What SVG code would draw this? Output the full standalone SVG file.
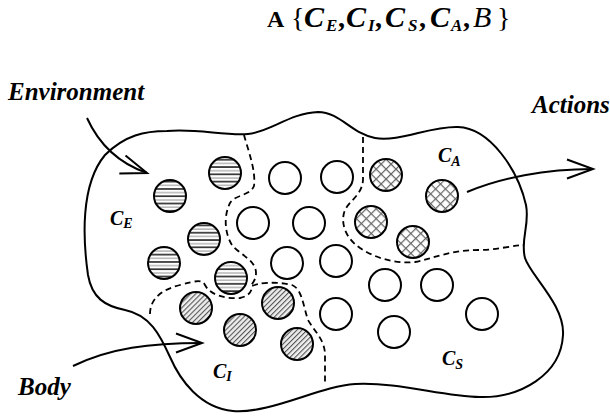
<svg xmlns="http://www.w3.org/2000/svg" width="610" height="417" viewBox="0 0 610 417">
<style>
.blob{fill:none;stroke:#000;stroke-width:2}
.bd{fill:none;stroke:#000;stroke-width:1.8;stroke-dasharray:6,4}
.c{stroke:#000;stroke-width:2}
.e{fill:#fff}
.h{fill:url(#hz)}
.d{fill:url(#dg)}
.x{fill:url(#xh)}
.arr{fill:none;stroke:#000;stroke-width:2;marker-end:url(#ah)}
.lb{font-family:"Liberation Serif","Times New Roman",serif;font-weight:bold;font-style:italic;fill:#000}
.t{font-family:"Liberation Serif","Times New Roman",serif;fill:#000}
.bi{font-weight:bold;font-style:italic}
</style>
<defs>
<pattern id="hz" patternUnits="userSpaceOnUse" width="8" height="7.3">
<rect width="8" height="7.3" fill="#fff"/>
<rect y="2.2" width="8" height="1.3" fill="#aaa"/>
<rect y="5.6" width="8" height="1.7" fill="#333"/>
</pattern>
<pattern id="dg" patternUnits="userSpaceOnUse" width="3.6" height="3.6" patternTransform="rotate(45)">
<rect width="3.6" height="3.6" fill="#eee"/>
<rect width="1.1" height="3.6" fill="#555"/>
</pattern>
<pattern id="xh" patternUnits="userSpaceOnUse" width="7" height="7" patternTransform="rotate(45)">
<rect width="7" height="7" fill="#fff"/>
<rect width="1.2" height="7" fill="#666"/>
<rect width="7" height="1.2" fill="#666"/>
</pattern>
<marker id="ah" markerUnits="userSpaceOnUse" viewBox="-30 -12 34 24" markerWidth="34" markerHeight="24" refX="0" refY="0" orient="auto" overflow="visible">
<path d="M -26,-9.5 L 0,0 L -26,9.5" fill="none" stroke="#000" stroke-width="2"/>
</marker>
</defs>

<g id="title">
<text class="t" y="27"><tspan x="267" font-size="24" font-weight="bold">A</tspan><tspan x="291" font-size="28">{</tspan><tspan class="bi" x="304" font-size="30">C</tspan><tspan class="bi" x="326" y="31" font-size="17">E</tspan><tspan x="338" y="27" font-size="28" font-weight="bold">,</tspan><tspan class="bi" x="346" font-size="30">C</tspan><tspan class="bi" x="368" y="31" font-size="17">I</tspan><tspan x="375" y="27" font-size="28" font-weight="bold">,</tspan><tspan class="bi" x="385" font-size="30">C</tspan><tspan class="bi" x="408" y="31" font-size="17">S</tspan><tspan x="419" y="27" font-size="28" font-weight="bold">,</tspan><tspan class="bi" x="430" font-size="30">C</tspan><tspan class="bi" x="451" y="31" font-size="17">A</tspan><tspan x="463" y="27" font-size="28" font-weight="bold">,</tspan><tspan x="473" font-size="30" font-style="italic">B</tspan><tspan x="497" font-size="28">}</tspan></text>
</g>

<g id="body">
<path class="blob" d="M 167,131 C 195,128 225,136 248,134 C 270,132 290,113 318,112 C 340,112 352,134 375,138 C 400,142 430,126 458,127 C 490,128 518,170 526,205 C 530,225 520,240 525,258 C 530,275 565,305 563,335 C 561,375 520,398 480,397 C 440,396 400,382 355,384 C 320,386 270,414 233,411 C 200,408 180,380 170,357 C 160,335 150,315 125,310 C 105,306 92,298 88,275 C 83,240 80,185 105,155 C 125,135 145,131 167,131 Z"/>
</g>

<g id="boundaries">
<path class="bd" d="M 244,135 C 248,150 256,170 254,186 C 250,196 236,194 230,203 C 224,215 224,232 232,245 C 240,255 256,260 256,273 C 256,280 252,284 250,287"/>
<path class="bd" d="M 150,314 C 150,300 160,290 180,285 C 195,281 202,279 205,285 C 210,295 225,299 240,298 C 250,296 252,290 252,286 C 258,283 275,281 292,285 C 302,289 303,305 308,320 C 315,332 325,340 325,355 L 325,382"/>
<path class="bd" d="M 363,137 L 363,180 C 362,195 350,200 345,210 C 340,222 345,238 360,248 C 375,258 395,264 415,262 C 435,258 450,250 480,250 C 495,250 510,246 523,245"/>
</g>

<g id="ce-1"><circle class="c h" cx="170" cy="196" r="16"/></g>
<g id="ce-2"><circle class="c h" cx="225" cy="173" r="16"/></g>
<g id="ce-3"><circle class="c h" cx="204" cy="239" r="16"/></g>
<g id="ce-4"><circle class="c h" cx="164" cy="263" r="16"/></g>
<g id="ce-5"><circle class="c h" cx="231" cy="278" r="16"/></g>

<g id="ci-1"><circle class="c d" cx="196" cy="308" r="16"/></g>
<g id="ci-2"><circle class="c d" cx="240" cy="330" r="16"/></g>
<g id="ci-3"><circle class="c d" cx="278" cy="303" r="16"/></g>
<g id="ci-4"><circle class="c d" cx="297" cy="344" r="16"/></g>

<g id="ca-1"><circle class="c x" cx="386" cy="175" r="16"/></g>
<g id="ca-2"><circle class="c x" cx="442" cy="196" r="16"/></g>
<g id="ca-3"><circle class="c x" cx="371" cy="222" r="16"/></g>
<g id="ca-4"><circle class="c x" cx="413" cy="242" r="16"/></g>

<g id="cs-1"><circle class="c e" cx="285" cy="178" r="16"/></g>
<g id="cs-2"><circle class="c e" cx="337" cy="177" r="16"/></g>
<g id="cs-3"><circle class="c e" cx="253" cy="223" r="16"/></g>
<g id="cs-4"><circle class="c e" cx="309" cy="223" r="16"/></g>
<g id="cs-5"><circle class="c e" cx="287" cy="263" r="16"/></g>
<g id="cs-6"><circle class="c e" cx="336" cy="261" r="16"/></g>
<g id="cs-7"><circle class="c e" cx="385" cy="285" r="16"/></g>
<g id="cs-8"><circle class="c e" cx="437" cy="285" r="16"/></g>
<g id="cs-9"><circle class="c e" cx="336" cy="314" r="16"/></g>
<g id="cs-10"><circle class="c e" cx="394" cy="332" r="16"/></g>
<g id="cs-11"><circle class="c e" cx="482" cy="314" r="16"/></g>

<g id="label-ce"><text class="lb" x="110" y="225" font-size="20">C<tspan font-size="14" dy="3">E</tspan></text></g>
<g id="label-ca"><text class="lb" x="438" y="162" font-size="20">C<tspan font-size="14" dy="4">A</tspan></text></g>
<g id="label-ci"><text class="lb" x="213" y="378" font-size="20">C<tspan font-size="14" dy="3">I</tspan></text></g>
<g id="label-cs"><text class="lb" x="442" y="365" font-size="20">C<tspan font-size="14" dy="4">S</tspan></text></g>

<g id="environment"><text class="lb" x="8" y="100" font-size="25">Environment</text></g>
<g id="actions"><text class="lb" x="532" y="113" font-size="25">Actions</text></g>
<g id="body-label"><text class="lb" x="18" y="395" font-size="25">Body</text></g>

<g id="connectors">
<path class="arr" d="M 87,118 C 97,140 115,162 147,173"/>
<path class="arr" d="M 467,192 C 500,178 545,169 593,169"/>
<path class="arr" d="M 73,366 C 110,348 150,343 202,343"/>
</g>
</svg>
